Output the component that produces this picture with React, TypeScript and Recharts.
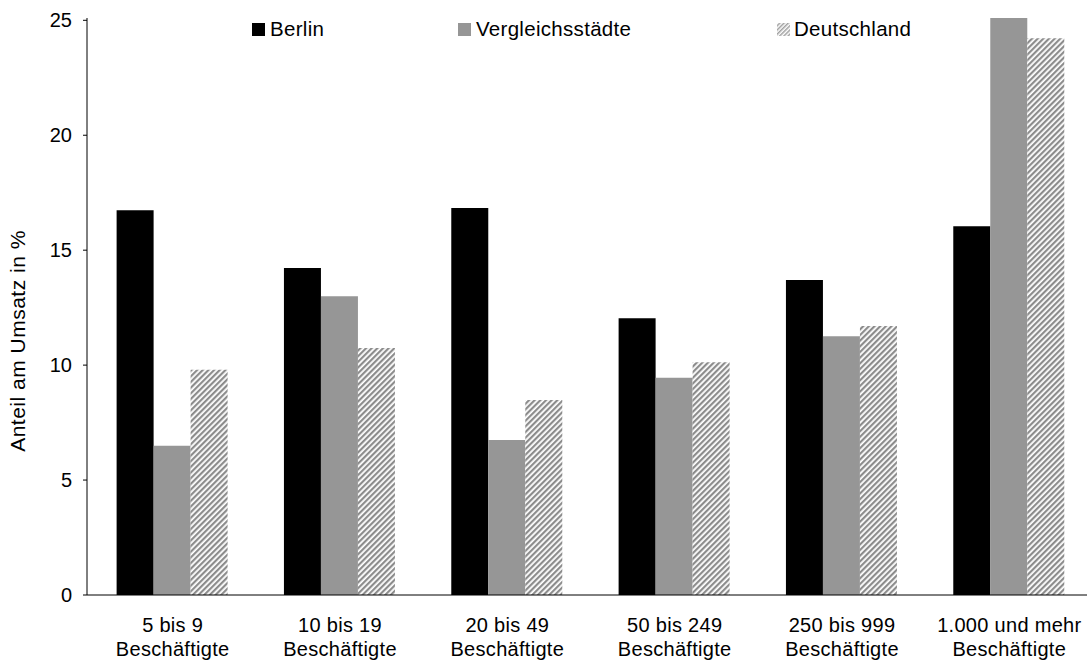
import React from 'react';
import { BarChart, Bar, XAxis, YAxis, Legend } from 'recharts';

const categories = ['5 bis 9', '10 bis 19', '20 bis 49', '50 bis 249', '250 bis 999', '1.000 und mehr'];
const categorySuffix = 'Beschäftigte';
const berlin = [16.74, 14.22, 16.83, 12.04, 13.7, 16.04];
const vergleichsstaedte = [6.49, 13.0, 6.74, 9.45, 11.26, 25.1];
const deutschland = [9.8, 10.74, 8.48, 10.13, 11.7, 24.22];
const yTicks = [0, 5, 10, 15, 20, 25];
const seriesNames = ['Berlin', 'Vergleichsstädte', 'Deutschland'];
const yAxisTitle = 'Anteil am Umsatz in %';

const data = categories.map((c, i) => ({
  name: c,
  berlin: berlin[i],
  vergleich: vergleichsstaedte[i],
  deutschland: deutschland[i],
}));

const FONT = '"Liberation Sans", Arial, sans-serif';

const XTick = (props: any) => {
  const { x, y, payload } = props;
  return (
    <text x={x} y={y} textAnchor="middle" fill="#000" fontSize={20} fontFamily={FONT} letterSpacing={0.3}>
      <tspan x={x} dy={37}>{payload.value}</tspan>
      <tspan x={x} dy={24}>{categorySuffix}</tspan>
    </text>
  );
};

const LegendContent = () => {
  const items = [
    { name: seriesNames[0], fill: '#000000', sq: 252, tx: 270 },
    { name: seriesNames[1], fill: '#969696', sq: 458, tx: 476 },
    { name: seriesNames[2], fill: 'url(#hatchLegend)', sq: 777, tx: 794 },
  ];
  return (
    <div style={{ position: 'relative', height: 0, width: 0 }}>
      <svg width={1087} height={44} style={{ position: 'absolute', left: 0, top: 0, display: 'block' }}>
        <defs>
          <pattern id="hatchLegend" patternUnits="userSpaceOnUse" width={3} height={3} patternTransform="rotate(45)">
            <rect x={0} y={0} width={3} height={3} fill="#ffffff" />
            <rect x={0} y={0} width={1.5} height={3} fill="#a0a0a0" />
          </pattern>
        </defs>
        {items.map((it) => (
          <g key={it.name}>
            <rect x={it.sq} y={23} width={13} height={13} fill={it.fill} />
            <text x={it.tx} y={36} fontSize={20.5} fontFamily={FONT} fill="#000" letterSpacing={0.3}>{it.name}</text>
          </g>
        ))}
      </svg>
    </div>
  );
};

const YTitle = () => (
  <text
    x={25}
    y={341}
    transform="rotate(-90 25 341)"
    textAnchor="middle"
    fontSize={21}
    fontFamily={FONT}
    letterSpacing={0.5}
    fill="#000"
  >
    {yAxisTitle}
  </text>
);

export default function App() {
  return (
    <div style={{ position: 'absolute', left: 0, top: 0, width: 1087, height: 667, overflow: 'hidden', background: '#fff' }}>
      <BarChart
        width={1093}
        height={667}
        data={data}
        margin={{ top: 18, right: 0, bottom: 0, left: 0 }}
        barCategoryGap="16.5%"
        barGap={0}
      >
        <defs>
          <pattern id="hatch" patternUnits="userSpaceOnUse" width={4} height={4} patternTransform="rotate(45)">
            <rect x={0} y={0} width={4} height={4} fill="#ffffff" />
            <rect x={0} y={0} width={2.2} height={4} fill="#8c8c8c" />
          </pattern>
        </defs>
        <XAxis
          dataKey="name"
          height={72}
          tickLine={false}
          tickSize={0}
          tickMargin={0}
          axisLine={{ stroke: '#000', strokeWidth: 1 }}
          tick={<XTick />}
          interval={0}
          padding={{ left: 2, right: 0 }}
        />
        <YAxis
          width={87}
          domain={[0, 'dataMax']}
          ticks={yTicks}
          tickSize={4}
          tickMargin={11}
          axisLine={{ stroke: '#000', strokeWidth: 1 }}
          tickLine={{ stroke: '#000', strokeWidth: 1 }}
          tick={{ fill: '#000', fontSize: 20, fontFamily: FONT }}
          label={<YTitle />}
        />
        <Legend
          verticalAlign="top"
          content={<LegendContent />}
          wrapperStyle={{ position: 'absolute', top: 0, left: 0, width: 0, height: 0 }}
        />
        <Bar dataKey="berlin" name={seriesNames[0]} fill="#000000" isAnimationActive={false} />
        <Bar dataKey="vergleich" name={seriesNames[1]} fill="#969696" isAnimationActive={false} />
        <Bar dataKey="deutschland" name={seriesNames[2]} fill="url(#hatch)" isAnimationActive={false} />
      </BarChart>
    </div>
  );
}
